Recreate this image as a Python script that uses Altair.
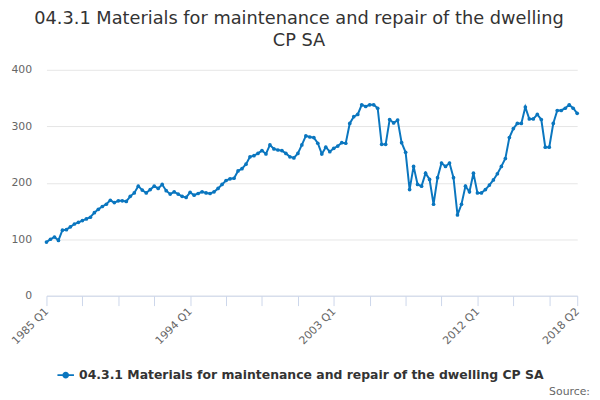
import altair as alt
import pandas as pd

FONT = "DejaVu Sans"
BLUE = "#0a76bf"

TITLE = ["04.3.1 Materials for maintenance and repair of the dwelling", "CP SA"]
SERIES = "04.3.1 Materials for maintenance and repair of the dwelling CP SA"
SOURCE = "Source:"

# quarterly index values, 1985 Q1 .. 2018 Q2
values = [
    95, 100, 104, 98, 116, 117, 122, 127, 130, 133,
    136, 139, 147, 153, 158, 162, 169, 165, 168, 168,
    167, 176, 182, 194, 187, 182, 188, 194, 190, 197,
    186, 180, 184, 180, 176, 174, 183, 178, 181, 184,
    182, 181, 184, 190, 197, 204, 207, 208, 221, 225,
    233, 246, 248, 252, 257, 251, 267, 260, 258, 257,
    252, 246, 244, 252, 267, 283, 281, 280, 270, 251,
    263, 255, 261, 265, 271, 270, 305, 317, 321, 338,
    335, 338, 338, 332, 268, 268, 312, 306, 311, 271,
    254, 188, 229, 197, 194, 217, 206, 162, 209, 235,
    229, 235, 209, 143, 162, 194, 184, 217, 182, 182,
    188, 196, 205, 216, 229, 243, 280, 296, 305, 305,
    334, 313, 313, 321, 312, 263, 263, 305, 328, 328,
    332, 338, 332, 323,
]
quarters = [f"{1985 + i // 4} Q{i % 4 + 1}" for i in range(len(values))]

# ticks every 9 quarters plus the last one; only some of them carry a label
tick_quarters = quarters[::9] + [quarters[-1]]
labelled = ["1985 Q1", "1994 Q1", "2003 Q1", "2012 Q1", "2018 Q2"]
y_ticks = [0, 100, 200, 300, 400]

df = pd.DataFrame({"quarter": quarters, "value": values, "series": SERIES})

label_list = ",".join(f"'{q}'" for q in labelled)
x_enc = alt.X(
    "quarter:O",
    sort=None,
    title=None,
    scale=alt.Scale(type="point", padding=0),
    axis=alt.Axis(
        values=tick_quarters,
        labelExpr=f"indexof([{label_list}], datum.value) >= 0 ? datum.value : ''",
        labelAngle=-45,
        labelAlign="right",
        labelBaseline="middle",
        labelColor="#666666",
        labelFontSize=11,
        labelFont=FONT,
        labelPadding=4,
        domainColor="#ccd6eb",
        tickColor="#ccd6eb",
        tickSize=10,
        grid=False,
    ),
)
y_enc = alt.Y(
    "value:Q",
    title=None,
    scale=alt.Scale(domain=[0, 400], nice=False),
    axis=alt.Axis(
        values=y_ticks,
        domain=False,
        ticks=False,
        gridColor="#e6e6e6",
        labelColor="#666666",
        labelFontSize=11,
        labelFont=FONT,
        labelPadding=15,
    ),
)

base = alt.Chart(df)

line = base.mark_line(strokeWidth=2).encode(
    x=x_enc,
    y=y_enc,
    color=alt.Color(
        "series:N",
        scale=alt.Scale(domain=[SERIES], range=[BLUE]),
        legend=alt.Legend(
            title=None,
            orient="none",
            legendX=10,
            legendY=300,
            symbolType="M-1,0H1M0.28,0A0.28,0.28,0,1,1,-0.28,0A0.28,0.28,0,1,1,0.28,0",
            symbolSize=280,
            symbolStrokeWidth=2,
            symbolFillColor=BLUE,
            labelFont=FONT,
            labelFontSize=12.6,
            labelFontWeight="bold",
            labelColor="#333333",
            labelLimit=1000,
        ),
    ),
)

points = base.mark_point(filled=True, size=14, opacity=1, color=BLUE).encode(
    x=x_enc,
    y=y_enc,
)

source = alt.Chart(pd.DataFrame({"t": [SOURCE]})).mark_text(
    align="right", baseline="middle", font=FONT, fontSize=11, color="#666666"
).encode(x=alt.value(551), y=alt.value(327), text="t:N")

chart = alt.layer(line, points, source).properties(
    width=538,
    height=229,
    autosize=alt.AutoSizeParams(type="none"),
    padding={"left": 39, "top": 60, "right": 15, "bottom": 100},
    title=alt.TitleParams(
        TITLE,
        font=FONT,
        fontSize=18,
        fontWeight="normal",
        color="#333333",
        anchor="middle",
        dx=-13,
        offset=14,
        lineHeight=22,
    ),
).configure_view(stroke=None)

chart.save("out.html", embed_options={"renderer": "svg", "actions": False})
